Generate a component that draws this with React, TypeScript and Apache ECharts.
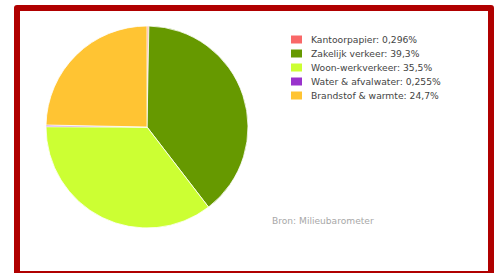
import React, { useEffect, useRef } from "react";
import * as echarts from "echarts";

const categories = [
  "Kantoorpapier",
  "Zakelijk verkeer",
  "Woon-werkverkeer",
  "Water & afvalwater",
  "Brandstof & warmte",
];
const values = [0.296, 39.3, 35.5, 0.255, 24.7];
const colors = ["#f96868", "#669900", "#ccff33", "#9933cc", "#ffc433"];
const sourceText = "Bron: Milieubarometer";

const FONT = "'DejaVu Sans', Verdana, sans-serif";

export default function App() {
  const ref = useRef<HTMLDivElement>(null);

  useEffect(() => {
    if (!ref.current) return;
    const chart = echarts.init(ref.current, null, { renderer: "svg" });
    const valueByName: Record<string, number> = {};
    categories.forEach((c, i) => (valueByName[c] = values[i]));
    chart.setOption({
      animation: false,
      backgroundColor: "transparent",
      color: colors,
      legend: {
        orient: "vertical",
        left: 289,
        top: 32.5,
        padding: 0,
        itemWidth: 13,
        itemHeight: 10,
        itemGap: 0,
        icon: "rect",
        selectedMode: false,
        data: categories,
        formatter: (name: string) =>
          `${name}: ${String(valueByName[name]).replace(".", ",")}%`,
        textStyle: {
          fontFamily: FONT,
          fontSize: 9.2,
          color: "#444",
          lineHeight: 14,
          padding: [0, 0, 0, 3],
        },
      },
      graphic: [
        {
          type: "text",
          left: 272,
          top: 216.5,
          style: {
            text: sourceText,
            fontFamily: FONT,
            fontSize: 9.1,
            fill: "#a8a8a8",
          },
        },
      ],
      series: [
        {
          type: "pie",
          center: [147, 127],
          radius: 101,
          startAngle: 90,
          clockwise: true,
          label: { show: false },
          labelLine: { show: false },
          emphasis: { disabled: true },
          itemStyle: { borderColor: "#fff", borderWidth: 0.8 },
          data: categories.map((c, i) => ({ name: c, value: values[i] })),
        },
      ],
    });
    return () => chart.dispose();
  }, []);

  return (
    <div
      style={{
        position: "fixed",
        left: 0,
        top: 0,
        width: 499,
        height: 273,
        background: "#fff",
        overflow: "hidden",
      }}
    >
      <div
        style={{
          position: "absolute",
          left: 14,
          top: 5,
          width: 480,
          height: 272,
          border: "6px solid #b00000",
          borderRadius: 3,
          boxSizing: "border-box",
          background: "#fff",
        }}
      />
      <div
        ref={ref}
        style={{ position: "absolute", left: 0, top: 0, width: 499, height: 273 }}
      />
    </div>
  );
}
